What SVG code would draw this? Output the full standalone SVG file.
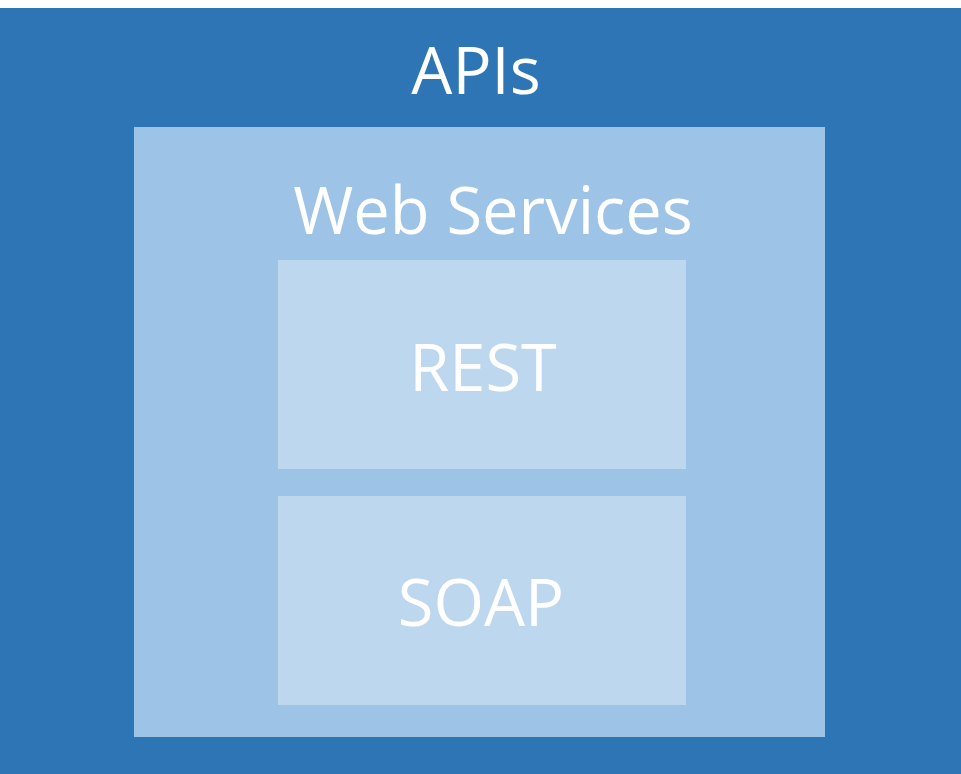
<svg xmlns="http://www.w3.org/2000/svg" width="961" height="774" viewBox="0 0 961 774">
<style>
text{font-family:"Open Sans","Liberation Sans",sans-serif;fill:#ffffff;text-anchor:middle;font-size:65px}
.box{fill:#BDD7EE}
</style>
<rect width="961" height="774" fill="#ffffff"/>
<g id="apis">
<rect x="0" y="8" width="961" height="766" fill="#2E75B6"/>
<text x="476" y="94">APIs</text>
</g>
<g id="web-services">
<rect x="134" y="127" width="691" height="610" fill="#9DC3E6"/>
<text x="493" y="234">Web Services</text>
</g>
<g id="rest">
<rect class="box" x="278" y="260" width="408" height="209"/>
<text x="483" y="391">REST</text>
</g>
<g id="soap">
<rect class="box" x="278" y="496" width="408" height="209"/>
<text x="481" y="626">SOAP</text>
</g>
<g id="connectors"></g>
</svg>
